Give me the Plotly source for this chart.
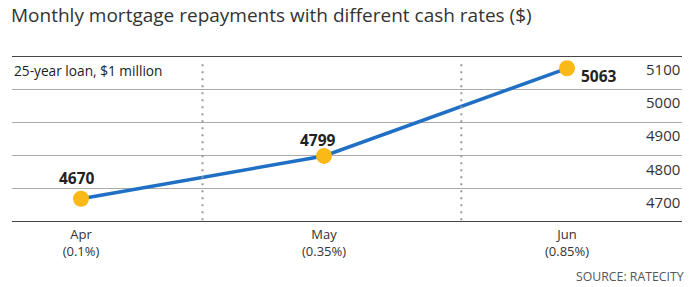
import plotly.graph_objects as go

months = ["Apr", "May", "Jun"]
rates = ["(0.1%)", "(0.35%)", "(0.85%)"]
repayments = [4670, 4799, 5063]
y_ticks = [5100, 5000, 4900, 4800, 4700]
grid_vals = [5100, 5000, 4900, 4800, 4700, 4600]
divider_x = [0.5, 1.565]

W, H = 697, 287
L, R, T, B = 12, 15, 56, 65
FONT = "Open Sans"

fig = go.Figure()
fig.add_trace(go.Scatter(
    x=list(range(len(months))), y=repayments, mode="lines+markers",
    line=dict(color="#1f6fc5", width=3.5),
    marker=dict(color="#fbb917", size=16, line=dict(width=0)),
    cliponaxis=False, hoverinfo="skip",
))

shifts = [(-4, 21), (-6, 16), (32, -8)]
for i, v in enumerate(repayments):
    fig.add_annotation(x=i, y=v, text=f"<b>{v}</b>", showarrow=False,
                       xshift=shifts[i][0], yshift=shifts[i][1],
                       font=dict(family=FONT, size=15.5, color="#222"))

for v in y_ticks:
    fig.add_annotation(x=1, xref="paper", y=v, yref="y", text=str(v), showarrow=False,
                       xanchor="right", yanchor="middle", yshift=-13,
                       font=dict(family=FONT, size=15, color="#333"))

for xv in divider_x:
    fig.add_shape(type="line", x0=xv, x1=xv, y0=0.95, y1=0, xref="x", yref="paper",
                  line=dict(color="#999", width=2, dash="2px,5px"))

for yv in (grid_vals[0], grid_vals[-1]):
    fig.add_shape(type="line", x0=0, x1=1, xref="paper", y0=yv, y1=yv, yref="y",
                  line=dict(color="#444", width=2))

fig.add_annotation(x=0, xref="paper", y=(222 - 70) / 166, yref="paper",
                   text="25-year loan, $1 million", showarrow=False,
                   xanchor="left", yanchor="middle",
                   font=dict(family=FONT, size=13.7, color="#222"))

fig.add_annotation(x=(686 - L) / 670, xref="paper", y=(222 - 276) / 166, yref="paper",
                   text="SOURCE: RATECITY", showarrow=False, xanchor="right", yanchor="middle",
                   font=dict(family=FONT, size=12.3, color="#555"))

fig.update_layout(
    width=W, height=H, margin=dict(l=L, r=R, t=T, b=B),
    paper_bgcolor="white", plot_bgcolor="white", showlegend=False,
    title=dict(text="Monthly mortgage repayments with different cash rates ($)",
               x=11 / W, xanchor="left", xref="container",
               y=1 - 15 / H, yanchor="middle", yref="container",
               font=dict(family=FONT, size=19, color="#333")),
    xaxis=dict(range=[-0.284, 2.473], tickvals=list(range(len(months))),
               ticktext=[f"{m}<br>{r}" for m, r in zip(months, rates)],
               showgrid=False, zeroline=False, showline=False, ticks="",
               ticklabelstandoff=3,
               tickfont=dict(family=FONT, size=13, color="#333"), fixedrange=True),
    yaxis=dict(range=[grid_vals[-1], grid_vals[0]], tickvals=grid_vals,
               showticklabels=False, showgrid=True, gridcolor="#aaa", gridwidth=1,
               zeroline=False, showline=False, ticks="", fixedrange=True),
)

fig.write_html("out.html")
